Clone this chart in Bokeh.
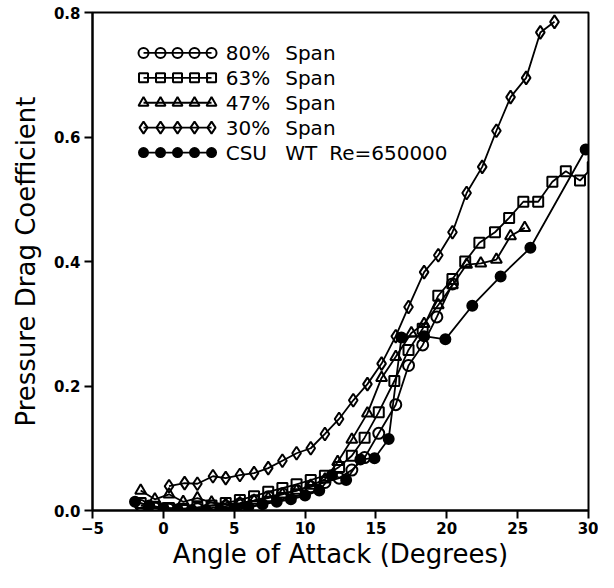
import numpy as np
from bokeh.plotting import figure
from bokeh.models import FixedTicker, Range1d, NumeralTickFormatter, Label
from bokeh.embed import file_html
from bokeh.resources import INLINE

# ---------------- data ----------------
aoa_80 = [-1.6, -0.6, 0.4, 1.4, 2.4, 3.4, 4.4, 5.4, 6.4, 7.4, 8.4, 9.4, 10.4, 11.4,
          12.4, 13.3, 14.2, 15.2, 16.4, 17.3, 18.3, 19.3, 20.4]
cd_80 = [0.008, 0.004, 0.002, 0.002, 0.003, 0.004, 0.007, 0.011, 0.016, 0.022, 0.027,
         0.032, 0.038, 0.045, 0.052, 0.065, 0.085, 0.124, 0.170, 0.233, 0.266, 0.311, 0.364]

aoa_63 = [-1.6, -0.6, 0.4, 1.4, 2.4, 3.4, 4.4, 5.4, 6.4, 7.4, 8.4, 9.4, 10.4, 11.4,
          12.4, 13.3, 14.2, 15.2, 16.3, 17.3, 18.3, 19.4, 20.4, 21.3, 22.3, 23.4, 24.4,
          25.4, 26.45, 27.45, 28.4, 29.4, 30.3]
cd_63 = [0.012, 0.006, 0.004, 0.003, 0.005, 0.008, 0.012, 0.017, 0.023, 0.030, 0.036,
         0.042, 0.049, 0.056, 0.070, 0.088, 0.117, 0.158, 0.208, 0.258, 0.292, 0.345,
         0.372, 0.400, 0.430, 0.447, 0.470, 0.496, 0.496, 0.528, 0.545, 0.530, 0.552]

aoa_47 = [-1.6, -0.6, 0.4, 1.4, 2.4, 3.4, 4.4, 5.4, 6.4, 7.4, 8.4, 9.4, 10.4, 11.4,
          12.3, 13.3, 14.4, 15.4, 16.4, 17.5, 18.4, 19.4, 20.4, 21.4, 22.4, 23.5, 24.5, 25.5]
cd_47 = [0.032, 0.018, 0.026, 0.014, 0.020, 0.013, 0.010, 0.012, 0.016, 0.020, 0.026,
         0.032, 0.040, 0.050, 0.078, 0.114, 0.156, 0.213, 0.247, 0.285, 0.300, 0.330,
         0.362, 0.395, 0.397, 0.403, 0.441, 0.454]

aoa_30 = [0.4, 1.5, 2.4, 3.5, 4.4, 5.4, 6.4, 7.4, 8.4, 9.4, 10.4, 11.4, 12.4, 13.4,
          14.4, 15.4, 16.4, 17.3, 18.4, 19.4, 20.4, 21.4, 22.5, 23.5, 24.5, 25.6, 26.6, 27.6]
cd_30 = [0.039, 0.044, 0.043, 0.055, 0.052, 0.057, 0.060, 0.068, 0.080, 0.092, 0.100,
         0.123, 0.147, 0.177, 0.203, 0.236, 0.280, 0.327, 0.383, 0.410, 0.447, 0.510,
         0.552, 0.610, 0.664, 0.695, 0.768, 0.785]

aoa_csu = [-2.0, -1.0, 0.0, 1.0, 2.0, 3.0, 4.0, 5.0, 6.0, 7.0, 8.0, 9.0, 10.0, 11.0,
           11.9, 12.9, 13.9, 14.9, 15.9, 16.8, 18.4, 19.9, 21.8, 23.8, 25.9, 29.8]
cd_csu = [0.014, 0.008, 0.004, 0.002, 0.001, 0.001, 0.001, 0.003, 0.006, 0.010, 0.014,
          0.018, 0.024, 0.032, 0.057, 0.049, 0.082, 0.084, 0.115, 0.278, 0.280, 0.275,
          0.329, 0.376, 0.422, 0.580]

legend_word1 = ["80%", "63%", "47%", "30%", "CSU"]
legend_word2 = ["Span", "Span", "Span", "Span", "WT"]
legend_word3 = ["", "", "", "", "Re=650000"]
x_ticks = [-5, 0, 5, 10, 15, 20, 25, 30]
y_ticks = [0.0, 0.2, 0.4, 0.6, 0.8]

# ---------------- figure ----------------
FONT = "DejaVu Sans"
p = figure(width=598, height=572, output_backend="svg", toolbar_location=None,
           x_range=Range1d(-5, 30), y_range=Range1d(0, 0.8),
           min_border_left=92, min_border_right=10, min_border_top=12,
           min_border_bottom=62)
p.grid.visible = False
p.background_fill_color = "white"
p.border_fill_color = "white"
p.outline_line_color = "black"
p.outline_line_width = 2

p.xaxis.ticker = FixedTicker(ticks=x_ticks)
p.yaxis.ticker = FixedTicker(ticks=y_ticks)
p.yaxis.formatter = NumeralTickFormatter(format="0.0")
for ax in (p.xaxis[0], p.yaxis[0]):
    ax.axis_line_width = 2
    ax.axis_line_color = "black"
    ax.major_tick_line_width = 2
    ax.major_tick_in = 0
    ax.major_tick_out = 8
    ax.minor_tick_line_color = None
    ax.major_label_text_font = FONT
    ax.major_label_text_font_style = "bold"
    ax.major_label_text_font_size = "15px"
    ax.major_label_text_color = "black"
    ax.axis_label_text_font = FONT
    ax.axis_label_text_font_style = "normal"
    ax.axis_label_text_font_size = "26px"
    ax.axis_label_text_color = "black"
p.xaxis.axis_label = "Angle of Attack (Degrees)"
p.yaxis.axis_label = "Pressure Drag Coefficient"
p.xaxis.major_label_standoff = 3
p.xaxis.axis_label_standoff = 2
p.yaxis.major_label_standoff = 4
p.yaxis.axis_label_standoff = 10

series = [
    (aoa_80, cd_80, "circle", 11, None),
    (aoa_63, cd_63, "square", 10, None),
    (aoa_47, cd_47, "triangle", 11, None),
    (aoa_30, cd_30, "diamond", 13, None),
    (aoa_csu, cd_csu, "circle", 10, "black"),
]

for xs, ys, mk, sz, fill in series:
    p.line(xs, ys, line_color="black", line_width=1.8)
    p.scatter(xs, ys, marker=mk, size=sz, line_color="black", line_width=2,
              fill_color=fill)

# ---------------- legend (5 sample markers per row, as in the reference) ----------------
LEG_X0, LEG_DX, LEG_N = -1.4, 1.2, 5
LEG_Y0, LEG_DY = 0.735, 0.040
LEG_TX = (4.4, 8.6, 11.7)
for i, (s, w1, w2, w3) in enumerate(zip(series, legend_word1, legend_word2, legend_word3)):
    _, _, mk, sz, fill = s
    ry = LEG_Y0 - i * LEG_DY
    lx = LEG_X0 + LEG_DX * np.arange(LEG_N)
    ly = np.full(LEG_N, ry)
    p.line(lx, ly, line_color="black", line_width=1.8)
    p.scatter(lx, ly, marker=mk, size=sz - 1, line_color="black", line_width=2,
              fill_color=fill)
    for tx, w in zip(LEG_TX, (w1, w2, w3)):
        if w:
            p.add_layout(Label(x=tx, y=ry, text=w, text_font=FONT,
                               text_font_size="20px", text_baseline="middle",
                               text_color="black"))

open("out.html", "w").write(file_html(p, INLINE))
